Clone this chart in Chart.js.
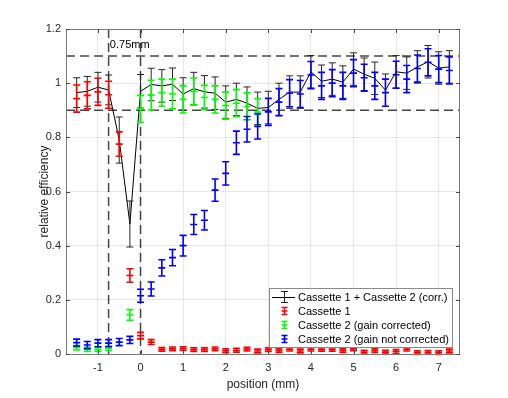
<!DOCTYPE html>
<html><head><meta charset="utf-8">
<script src="https://cdn.jsdelivr.net/npm/chart.js@4/dist/chart.umd.min.js"></script>
<style>html,body{margin:0;padding:0;background:#fff;}canvas{display:block}</style>
</head><body>
<canvas id="c" width="508" height="398"></canvas>
<script>
const positions = [-1.5,-1.25,-1,-0.75,-0.5,-0.25,0,0.25,0.5,0.75,1,1.25,1.5,1.75,2,2.25,2.5,2.75,3,3.25,3.5,3.75,4,4.25,4.5,4.75,5,5.25,5.5,5.75,6,6.25,6.5,6.75,7,7.25];

const combinedValues = [0.965,0.97,0.985,0.975,0.79,0.48,0.97,0.995,0.99,0.996,0.96,0.98,0.968,0.963,0.93,0.94,0.926,0.907,0.91,0.94,0.967,0.967,1.042,1.007,1.015,1.004,1.052,1.033,1.018,0.974,1.042,1.037,1.06,1.079,1.056,1.06];
const combinedErrors = [0.055,0.055,0.055,0.055,0.085,0.085,0.062,0.06,0.06,0.06,0.06,0.06,0.06,0.06,0.06,0.06,0.06,0.06,0.06,0.06,0.06,0.06,0.06,0.06,0.06,0.06,0.06,0.06,0.06,0.06,0.06,0.06,0.06,0.06,0.06,0.06];

const cassette1Values = [0.943,0.955,0.968,0.957,0.775,0.29,0.068,0.044,0.017,0.019,0.02,0.016,0.016,0.019,0.012,0.014,0.018,0.011,0.016,0.013,0.018,0.011,0.018,0.017,0.017,0.013,0.019,0.007,0.013,0.007,0.009,0.018,0.005,0.006,0.005,0.011];
const cassette1Errors = [0.05,0.05,0.05,0.05,0.045,0.025,0.012,0.009,0.007,0.007,0.007,0.007,0.007,0.007,0.007,0.007,0.007,0.007,0.007,0.007,0.007,0.007,0.007,0.007,0.007,0.007,0.007,0.007,0.007,0.007,0.007,0.007,0.007,0.007,0.007,0.007];

const cassette2CorrValues = [0.023,0.017,0.017,0.021,null,0.144,0.905,0.956,0.965,0.96,0.94,0.969,0.947,0.94,0.917,0.926,0.914,0.893,null,null,null,null,null,null,null,null,null,null,null,null,null,null,null,null,null,null];
const cassette2CorrErrors = [0.008,0.008,0.008,0.008,null,0.02,0.05,0.055,0.05,0.055,0.05,0.05,0.045,0.05,0.05,0.05,0.05,0.05,null,null,null,null,null,null,null,null,null,null,null,null,null,null,null,null,null,null];

const cassette2RawValues = [0.042,0.033,0.04,0.04,0.044,0.052,0.215,0.24,0.318,0.356,0.4,0.478,0.494,0.605,0.667,0.78,0.83,0.84,0.894,0.93,0.963,0.96,1.03,0.99,1.0,0.99,1.037,1.02,0.99,0.965,1.031,1.015,1.054,1.077,1.052,1.047];
const cassette2RawErrors = [0.013,0.013,0.013,0.013,0.013,0.013,0.024,0.026,0.03,0.03,0.038,0.037,0.036,0.041,0.043,0.043,0.047,0.046,0.05,0.05,0.05,0.05,0.05,0.05,0.05,0.05,0.05,0.05,0.05,0.05,0.05,0.05,0.05,0.05,0.05,0.05];

const seriesLabels = ['Cassette 1 + Cassette 2 (corr.)','Cassette 1','Cassette 2 (gain corrected)','Cassette 2 (gain not corrected)'];
const seriesColors = ['#000000','#ff0000','#00ff00','#0000ff'];

const xTickValues = [-1,0,1,2,3,4,5,6,7];
const yTickValues = [0,0.2,0.4,0.6,0.8,1,1.2];
const xTickLabels = ['-1','0','1','2','3','4','5','6','7'];
const yTickLabels = ['0','0.2','0.4','0.6','0.8','1','1.2'];

const refLevels = [0.9, 1.1];
const refPositions = [-0.75, 0];
const annotationText = '0.75mm';
const annotationPos = {x: -0.72, y: 1.142};

const FONT = '"Liberation Sans", Arial, Helvetica, sans-serif';

function pts(vals){
  const out = [];
  vals.forEach((v,i)=>{ if(v!==null) out.push({x:positions[i], y:v}); });
  return out;
}

const allValues = [combinedValues, cassette1Values, cassette2CorrValues, cassette2RawValues];
const allErrors = [combinedErrors, cassette1Errors, cassette2CorrErrors, cassette2RawErrors];

function drawErrBar(ctx, x, yMid, yLo, yHi, half, color, lw, centerTick){
  ctx.strokeStyle = color;
  ctx.lineWidth = lw;
  ctx.beginPath();
  ctx.moveTo(x, yLo); ctx.lineTo(x, yHi);
  ctx.moveTo(x-half, yLo); ctx.lineTo(x+half, yLo);
  ctx.moveTo(x-half, yHi); ctx.lineTo(x+half, yHi);
  if (centerTick){ ctx.moveTo(x-half, yMid); ctx.lineTo(x+half, yMid); }
  ctx.stroke();
}

const errorBarPlugin = {
  id: 'errorBars',
  beforeDatasetsDraw(chart){
    const ctx = chart.ctx, xs = chart.scales.x, ys = chart.scales.y, ca = chart.chartArea;
    ctx.save();
    ctx.beginPath(); ctx.rect(ca.left, ca.top, ca.right-ca.left, ca.bottom-ca.top); ctx.clip();
    ctx.setLineDash([9,5]);
    ctx.strokeStyle = 'rgba(0,0,0,0.72)';
    ctx.lineWidth = 1.5;
    refLevels.forEach(v=>{
      const y = ys.getPixelForValue(v);
      ctx.beginPath(); ctx.moveTo(ca.left, y); ctx.lineTo(ca.right, y); ctx.stroke();
    });
    refPositions.forEach(v=>{
      const x = xs.getPixelForValue(v);
      ctx.beginPath(); ctx.moveTo(x, ca.top); ctx.lineTo(x, ca.bottom); ctx.stroke();
    });
    ctx.restore();
  },
  afterDatasetsDraw(chart){
    const ctx = chart.ctx, xs = chart.scales.x, ys = chart.scales.y;
    ctx.save();
    for (let s=0; s<4; s++){
      const vals = allValues[s], errs = allErrors[s];
      const isBlack = s===0;
      vals.forEach((v,i)=>{
        if (v===null) return;
        const x = xs.getPixelForValue(positions[i]);
        const yM = ys.getPixelForValue(v);
        const yL = ys.getPixelForValue(v - errs[i]);
        const yH = ys.getPixelForValue(v + errs[i]);
        drawErrBar(ctx, x, yM, yL, yH, 3.5, isBlack ? '#262626' : seriesColors[s], isBlack ? 1 : 1.6, !isBlack);
      });
    }
    ctx.restore();
  },
  afterDraw(chart){
    const ctx = chart.ctx, xs = chart.scales.x, ys = chart.scales.y, ca = chart.chartArea;
    ctx.save();
    ctx.fillStyle = '#000';
    ctx.font = '11px ' + FONT;
    ctx.textAlign = 'left'; ctx.textBaseline = 'middle';
    ctx.fillText(annotationText, xs.getPixelForValue(annotationPos.x), ys.getPixelForValue(annotationPos.y));
    ctx.strokeStyle = '#7a7a7a';
    ctx.lineWidth = 1;
    ctx.strokeRect(ca.left+0.5, ca.top+0.5, ca.right-ca.left-1, ca.bottom-ca.top);
    ctx.strokeStyle = '#4a4a4a';
    ctx.beginPath();
    xTickValues.forEach(v=>{
      const x = Math.round(xs.getPixelForValue(v)) + 0.5;
      ctx.moveTo(x, ca.bottom); ctx.lineTo(x, ca.bottom-4);
      ctx.moveTo(x, ca.top); ctx.lineTo(x, ca.top+4);
    });
    yTickValues.forEach(v=>{
      const y = Math.round(ys.getPixelForValue(v)) + 0.5;
      ctx.moveTo(ca.left, y); ctx.lineTo(ca.left+4, y);
      ctx.moveTo(ca.right, y); ctx.lineTo(ca.right-4, y);
    });
    ctx.stroke();
    const L = 269, T = 288, W = 183, H = 59;
    ctx.fillStyle = '#fff';
    ctx.fillRect(L, T, W, H);
    ctx.strokeStyle = '#8a8a8a';
    ctx.strokeRect(L+0.5, T+0.5, W, H);
    ctx.font = '11px ' + FONT;
    ctx.textBaseline = 'middle';
    ctx.textAlign = 'left';
    for (let s=0; s<4; s++){
      const cy = T + 9 + s*14;
      const cx = L + 15;
      if (s===0){
        ctx.strokeStyle = '#000'; ctx.lineWidth = 1;
        ctx.beginPath(); ctx.moveTo(L+3, cy+0.5); ctx.lineTo(L+26, cy+0.5); ctx.stroke();
        drawErrBar(ctx, cx+0.5, cy, cy+5.5, cy-5.5, 3.5, '#262626', 1, false);
      } else {
        drawErrBar(ctx, cx+0.5, cy, cy+3.5, cy-3.5, 3, seriesColors[s], 1.6, true);
      }
      ctx.fillStyle = '#000';
      ctx.fillText(seriesLabels[s], L + 29, cy + 0.5);
    }
    ctx.restore();
  }
};

new Chart(document.getElementById('c').getContext('2d'), {
  type: 'scatter',
  data: {
    datasets: [
      {label: seriesLabels[0], data: pts(combinedValues), showLine: true, borderColor: '#000', borderWidth: 1, pointRadius: 0, order: 4},
      {label: seriesLabels[1], data: pts(cassette1Values), showLine: false, pointRadius: 0, order: 3},
      {label: seriesLabels[2], data: pts(cassette2CorrValues), showLine: false, pointRadius: 0, order: 2},
      {label: seriesLabels[3], data: pts(cassette2RawValues), showLine: false, pointRadius: 0, order: 1}
    ]
  },
  options: {
    responsive: false, animation: false, devicePixelRatio: 1,
    layout: {padding: {top: 29, right: 48, bottom: 0, left: 0}},
    plugins: {legend: {display: false}, tooltip: {enabled: false}},
    scales: {
      x: {
        type: 'linear', min: -1.75, max: 7.5,
        afterBuildTicks: s => { s.ticks = xTickValues.map(v => ({value: v})); },
        afterFit: s => { s.height = 44; },
        grid: {color: '#e6e6e6', drawTicks: false},
        border: {display: false},
        ticks: {padding: 7, color: '#262626', font: {size: 11, family: FONT}, maxRotation: 0,
          callback: (v) => { const i = xTickValues.indexOf(v); return i >= 0 ? xTickLabels[i] : ''; }},
        title: {display: true, text: 'position (mm)', color: '#262626', font: {size: 12, family: FONT}, padding: {top: 0, bottom: 6}}
      },
      y: {
        type: 'linear', min: 0, max: 1.2,
        afterBuildTicks: s => { s.ticks = yTickValues.map(v => ({value: v})); },
        afterFit: s => { s.width = 66; },
        grid: {color: '#e6e6e6', drawTicks: false},
        border: {display: false},
        ticks: {padding: 5, color: '#262626', font: {size: 11, family: FONT},
          callback: (v) => { const i = yTickValues.indexOf(v); return i >= 0 ? yTickLabels[i] : ''; }},
        title: {display: true, text: 'relative efficiency', color: '#262626', font: {size: 12, family: FONT}, padding: {top: 37, bottom: 0}}
      }
    }
  },
  plugins: [errorBarPlugin]
});
</script>
</body></html>
